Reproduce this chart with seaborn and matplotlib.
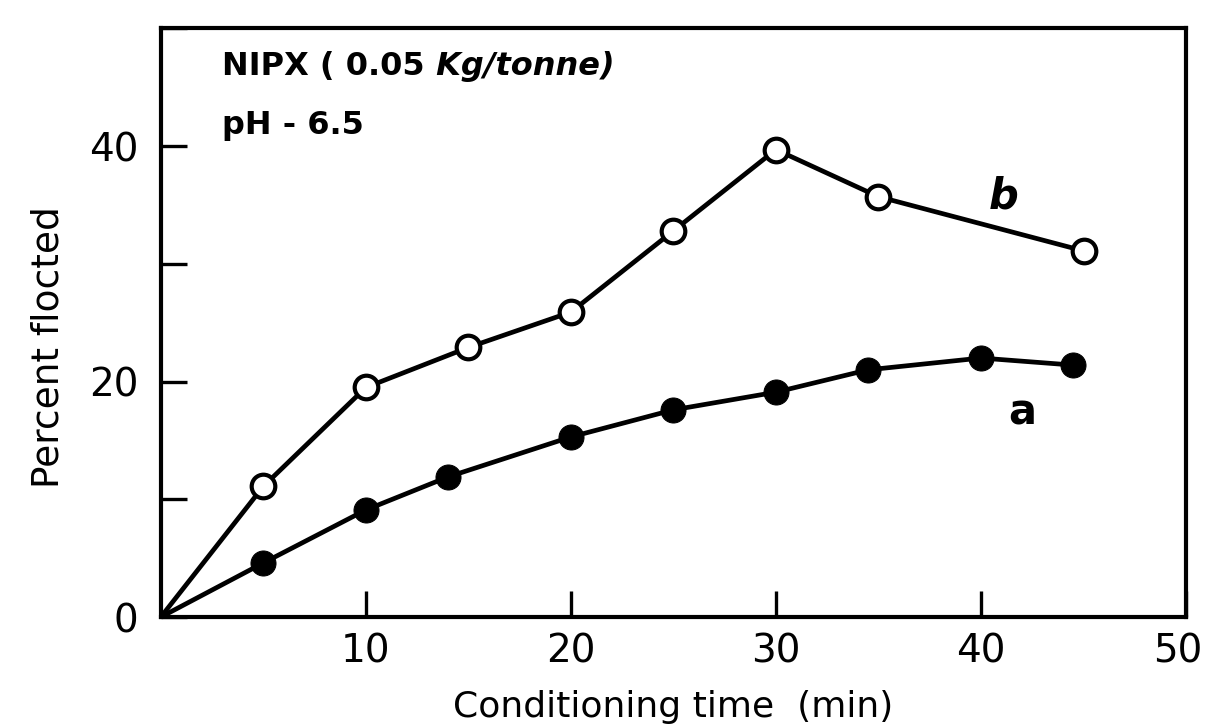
import numpy as np
import pandas as pd
import seaborn as sns
import matplotlib
matplotlib.use("Agg")
import matplotlib.pyplot as plt
from matplotlib.ticker import MultipleLocator
from matplotlib.transforms import ScaledTranslation

# Curve a (filled circles) and curve b (open circles); first point is the origin
time_a = [0, 5, 10, 14, 20, 25, 30, 34.5, 40, 44.5]
floated_a = [0, 4.6, 9.1, 11.9, 15.3, 17.6, 19.1, 21.0, 22.0, 21.4]

time_b = [0, 5, 10, 15, 20, 25, 30, 35, 45]
floated_b = [0, 11.1, 19.5, 22.9, 25.9, 32.8, 39.7, 35.7, 31.1]

x_ticks = [10, 20, 30, 40, 50]
y_ticks = [0, 20, 40]

df_a = pd.DataFrame({"time": time_a, "floated": floated_a})
df_b = pd.DataFrame({"time": time_b, "floated": floated_b})

sns.set_style("ticks")
plt.rcParams["font.family"] = ["DejaVu Sans"]
plt.rcParams["text.color"] = "black"
plt.rcParams["axes.labelcolor"] = "black"

fig = plt.figure(figsize=(12.09, 7.26), dpi=100)
ax = fig.add_axes([0.133, 0.150, 0.848, 0.811])

sns.lineplot(data=df_b, x="time", y="floated", ax=ax, color="black",
             linewidth=3.4, marker="o", markersize=17, markerfacecolor="white",
             markeredgecolor="black", markeredgewidth=3.0,
             markevery=list(range(1, len(time_b))))
sns.lineplot(data=df_a, x="time", y="floated", ax=ax, color="black",
             linewidth=3.4, marker="o", markersize=18, markerfacecolor="black",
             markeredgecolor="black", markevery=list(range(1, len(time_a))))

ax.set_xlim(0, 50)
ax.set_ylim(0, 50)
ax.set_xticks(x_ticks)
ax.set_yticks(y_ticks)
ax.yaxis.set_minor_locator(MultipleLocator(10))
ax.tick_params(axis="both", which="both", direction="in", length=19,
               width=2.4, labelsize=28, color="black", labelcolor="black")
ax.tick_params(axis="x", pad=11)
ax.tick_params(axis="y", pad=16)
for s in ax.spines.values():
    s.set_linewidth(3.0)
    s.set_color("black")

# last x label sits against the figure edge
last = ax.get_xticklabels()[-1]
last.set_transform(last.get_transform() + ScaledTranslation(-6 / 72, 0, fig.dpi_scale_trans))

ax.set_xlabel("Conditioning time  (min)", fontsize=26, labelpad=14)
ax.set_ylabel("Percent flocted", fontsize=27)
ax.yaxis.set_label_coords(-0.092, 0.458)

t1 = ax.text(3.0, 45.4, "NIPX ( 0.05", fontsize=23, fontweight="bold", va="bottom")
ax.annotate(" Kg/tonne)", xy=(1, 0), xycoords=t1, fontsize=23,
            fontweight="bold", fontstyle="italic", va="bottom")
ax.text(3.0, 40.4, "pH - 6.5", fontsize=23, fontweight="bold", va="bottom")
ax.text(41.1, 35.7, "b", fontsize=30, fontweight="bold", fontstyle="italic",
        ha="center", va="center")
ax.text(42.0, 17.4, "a", fontsize=30, fontweight="bold",
        ha="center", va="center")

fig.savefig("out.png", dpi=100, facecolor="white")
